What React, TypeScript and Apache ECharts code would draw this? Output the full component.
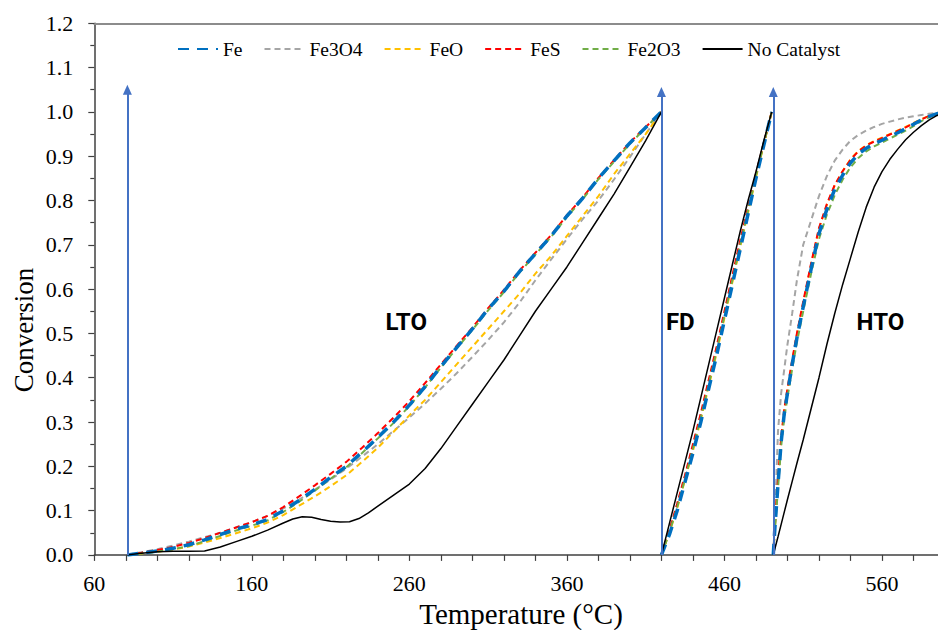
import React, { useEffect, useRef } from "react";
import * as echarts from "echarts";

// ---- Temperature grids (°C) ----
const T_LTO = [81, 90, 100, 110, 120, 130, 140, 150, 160, 170, 180, 190, 200, 210, 220, 230, 240, 250, 260, 270, 280, 290, 300, 310, 320, 330, 340, 350, 360, 370, 380, 390, 400, 410, 420];
const T_LTO_NC = [81, 90, 100, 110, 120, 130, 140, 150, 160, 170, 180, 186, 192, 198, 204, 210, 216, 222, 228, 234, 240, 250, 260, 270, 280, 290, 300, 310, 320, 330, 340, 350, 360, 370, 380, 390, 400, 410, 420];
const T_FD = [420, 425, 430, 435, 440, 445, 450, 455, 460, 465, 470, 475, 480, 485, 490];
const T_HTO = [491, 492, 494, 496, 498, 500, 503, 506, 510, 515, 520, 525, 530, 535, 540, 545, 550, 555, 560, 565, 570, 575, 580, 585, 590, 595, 600];

// ---- Conversion values ----
const feLTO = [0, 0.004, 0.009, 0.015, 0.023, 0.034, 0.046, 0.058, 0.068, 0.08, 0.1, 0.123, 0.148, 0.175, 0.2, 0.232, 0.265, 0.3, 0.338, 0.38, 0.425, 0.468, 0.51, 0.555, 0.595, 0.64, 0.68, 0.72, 0.765, 0.805, 0.85, 0.89, 0.93, 0.965, 1.0];
const fe3o4LTO = [0, 0.006, 0.013, 0.021, 0.03, 0.04, 0.05, 0.062, 0.074, 0.088, 0.105, 0.125, 0.147, 0.17, 0.195, 0.222, 0.25, 0.28, 0.31, 0.342, 0.375, 0.41, 0.447, 0.485, 0.525, 0.57, 0.62, 0.667, 0.713, 0.758, 0.8, 0.848, 0.898, 0.95, 1.0];
const feoLTO = [0, 0.003, 0.007, 0.012, 0.019, 0.028, 0.038, 0.049, 0.06, 0.073, 0.09, 0.111, 0.132, 0.155, 0.18, 0.21, 0.242, 0.278, 0.315, 0.35, 0.39, 0.43, 0.47, 0.51, 0.55, 0.59, 0.635, 0.675, 0.72, 0.765, 0.81, 0.86, 0.905, 0.95, 1.0];
const fesLTO = [0, 0.005, 0.011, 0.018, 0.027, 0.038, 0.05, 0.062, 0.074, 0.088, 0.108, 0.132, 0.157, 0.183, 0.21, 0.242, 0.275, 0.31, 0.347, 0.388, 0.43, 0.472, 0.513, 0.557, 0.598, 0.642, 0.682, 0.722, 0.767, 0.807, 0.851, 0.891, 0.931, 0.966, 1.0];
const fe2o3LTO = [0, 0.003, 0.007, 0.013, 0.02, 0.031, 0.043, 0.055, 0.066, 0.078, 0.097, 0.12, 0.145, 0.172, 0.198, 0.23, 0.263, 0.298, 0.336, 0.378, 0.423, 0.466, 0.508, 0.552, 0.593, 0.638, 0.678, 0.718, 0.763, 0.803, 0.848, 0.888, 0.928, 0.964, 1.0];
const ncLTO = [0, 0.004, 0.007, 0.008, 0.008, 0.009, 0.018, 0.03, 0.042, 0.056, 0.072, 0.081, 0.086, 0.085, 0.08, 0.076, 0.074, 0.075, 0.082, 0.095, 0.11, 0.135, 0.16, 0.195, 0.24, 0.29, 0.34, 0.39, 0.44, 0.495, 0.55, 0.6, 0.65, 0.705, 0.76, 0.815, 0.875, 0.935, 1.0];

const feFD = [0, 0.045, 0.1, 0.165, 0.23, 0.3, 0.375, 0.45, 0.53, 0.61, 0.69, 0.77, 0.85, 0.925, 1.0];
const fe3o4FD = [0, 0.055, 0.115, 0.18, 0.245, 0.315, 0.39, 0.465, 0.545, 0.625, 0.705, 0.78, 0.858, 0.93, 1.0];
const feoFD = [0, 0.05, 0.105, 0.17, 0.235, 0.305, 0.38, 0.455, 0.535, 0.615, 0.695, 0.773, 0.852, 0.927, 1.0];
const fesFD = [0, 0.055, 0.115, 0.18, 0.25, 0.32, 0.395, 0.47, 0.55, 0.63, 0.71, 0.785, 0.86, 0.93, 1.0];
const fe2o3FD = [0, 0.05, 0.108, 0.172, 0.24, 0.31, 0.385, 0.46, 0.54, 0.62, 0.7, 0.778, 0.855, 0.928, 1.0];
const ncFD = [0, 0.07, 0.14, 0.21, 0.28, 0.355, 0.43, 0.505, 0.58, 0.655, 0.73, 0.8, 0.865, 0.935, 1.0];

const feHTO = [0, 0.06, 0.16, 0.255, 0.32, 0.365, 0.43, 0.49, 0.56, 0.645, 0.725, 0.78, 0.825, 0.857, 0.885, 0.905, 0.918, 0.928, 0.936, 0.945, 0.953, 0.962, 0.972, 0.982, 0.99, 0.996, 0.999];
const fe3o4HTO = [0, 0.08, 0.28, 0.365, 0.42, 0.475, 0.545, 0.62, 0.7, 0.755, 0.81, 0.855, 0.89, 0.915, 0.935, 0.948, 0.958, 0.966, 0.973, 0.978, 0.983, 0.987, 0.99, 0.993, 0.996, 0.998, 1.0];
const feoHTO = [0, 0.062, 0.165, 0.26, 0.326, 0.372, 0.437, 0.497, 0.568, 0.655, 0.736, 0.79, 0.834, 0.866, 0.893, 0.912, 0.925, 0.934, 0.942, 0.95, 0.958, 0.966, 0.975, 0.984, 0.991, 0.996, 0.999];
const fesHTO = [0, 0.065, 0.17, 0.265, 0.33, 0.375, 0.44, 0.5, 0.572, 0.658, 0.738, 0.792, 0.835, 0.866, 0.892, 0.911, 0.924, 0.933, 0.941, 0.949, 0.957, 0.965, 0.974, 0.983, 0.991, 0.996, 0.999];
const fe2o3HTO = [0, 0.055, 0.15, 0.245, 0.31, 0.355, 0.42, 0.48, 0.55, 0.635, 0.713, 0.768, 0.812, 0.847, 0.875, 0.896, 0.911, 0.922, 0.931, 0.94, 0.949, 0.958, 0.968, 0.979, 0.988, 0.995, 0.999];
const ncHTO = [0, 0.014, 0.041, 0.069, 0.097, 0.125, 0.166, 0.207, 0.26, 0.33, 0.4, 0.475, 0.545, 0.61, 0.67, 0.73, 0.785, 0.83, 0.865, 0.893, 0.916, 0.937, 0.954, 0.969, 0.982, 0.992, 0.998];

// ---- Annotations ----
const ARROW_T = [81, 420, 491];
const ARROW_TOP = [1.05, 1.045, 1.045];
const STAGE_NAMES = ["LTO", "FD", "HTO"];
const STAGE_T = [258, 432, 559];
const STAGE_V = [0.525, 0.525, 0.525];

const SERIF = '"Liberation Serif", "Times New Roman", serif';

function seg(ts: number[], vs: number[]) {
  return ts.map((t, i) => [t, vs[i]]);
}
function build(lto: number[], fd: number[], hto: number[], ltoT: number[] = T_LTO) {
  return [
    ...seg(ltoT, lto),
    [420, null],
    ...seg(T_FD, fd),
    [490.5, null],
    ...seg(T_HTO, hto),
  ];
}

const seriesDefs = [
  { name: "Fe", color: "#0070C0", width: 3.5, type: [11, 8], z: 3, data: build(feLTO, feFD, feHTO) },
  { name: "Fe3O4", color: "#A5A5A5", width: 2, type: [6, 4], z: 2, data: build(fe3o4LTO, fe3o4FD, fe3o4HTO) },
  { name: "FeO", color: "#FFC000", width: 2, type: [6, 4], z: 2, data: build(feoLTO, feoFD, feoHTO) },
  { name: "FeS", color: "#FF0000", width: 2, type: [6, 4], z: 2, data: build(fesLTO, fesFD, fesHTO) },
  { name: "Fe2O3", color: "#70AD47", width: 2, type: [6, 4], z: 2, data: build(fe2o3LTO, fe2o3FD, fe2o3HTO) },
  { name: "No Catalyst", color: "#000000", width: 1.5, type: "solid", z: 4, data: build(ncLTO, ncFD, ncHTO, T_LTO_NC) },
];

export default function App() {
  const ref = useRef<HTMLDivElement>(null);
  useEffect(() => {
    const chart = echarts.init(ref.current!, null, { renderer: "svg" });
    const series: any[] = seriesDefs.map((s) => ({
      name: s.name,
      type: "line",
      data: s.data,
      z: s.z,
      showSymbol: false,
      symbol: "none",
      connectNulls: false,
      color: s.color,
      lineStyle: { color: s.color, width: s.width, type: s.type },
      emphasis: { disabled: true },
      silent: true,
    }));
    series.push({
      name: "annotations",
      type: "line",
      data: [],
      silent: true,
      markLine: {
        silent: true,
        symbol: ["none", "triangle"],
        symbolSize: [9, 10],
        label: { show: false },
        lineStyle: { color: "#4472C4", width: 2, type: "solid" },
        emphasis: { disabled: true },
        data: ARROW_T.map((t, i) => [{ coord: [t, 0] }, { coord: [t, ARROW_TOP[i]] }]),
      },
      markPoint: {
        silent: true,
        symbol: "circle",
        symbolSize: 0,
        label: {
          show: true,
          position: "inside",
          formatter: "{b}",
          fontFamily: "Roboto, Arial, sans-serif",
          fontWeight: "bold",
          fontSize: 24,
          color: "#000",
        },
        data: STAGE_NAMES.map((n, i) => ({ name: n, coord: [STAGE_T[i], STAGE_V[i]] })),
      },
    });

    chart.setOption({
      animation: false,
      backgroundColor: "#fff",
      grid: { left: 94.3, right: 1, top: 23.3, bottom: 75.1, containLabel: false },
      legend: {
        data: seriesDefs.map((s) => s.name),
        left: 172,
        top: 34,
        itemWidth: 40,
        itemHeight: 14,
        itemGap: 21,
        itemStyle: { opacity: 0 },
        textStyle: { fontFamily: SERIF, fontSize: 19.5, color: "#000" },
        selectedMode: false,
      },
      xAxis: [
        {
          type: "value",
          min: 60,
          max: 600,
          interval: 20,
          axisLine: { show: true, lineStyle: { color: "#404040", width: 1.5 } },
          axisTick: { show: true, length: 6, lineStyle: { color: "#404040", width: 1.2 } },
          axisLabel: {
            margin: 18,
            fontFamily: SERIF,
            fontSize: 22,
            color: "#000",
            formatter: (v: number) => ((Math.round(v) - 60) % 100 === 0 ? String(Math.round(v)) : ""),
          },
          splitLine: { show: false },
        },
        {
          type: "value",
          position: "top",
          min: 60,
          max: 600,
          axisLine: { show: true, onZero: false, lineStyle: { color: "#8c8c8c", width: 2 } },
          axisTick: { show: false },
          axisLabel: { show: false },
          splitLine: { show: false },
        },
      ],
      yAxis: {
        type: "value",
        min: 0,
        max: 1.2,
        interval: 0.1,
        axisLine: { show: true, lineStyle: { color: "#404040", width: 1.5 } },
        axisTick: { show: true, length: 6, lineStyle: { color: "#404040", width: 1.2 } },
        minorTick: { show: true, splitNumber: 2, length: 4, lineStyle: { color: "#404040", width: 1.2 } },
        axisLabel: {
          margin: 21,
          fontFamily: SERIF,
          fontSize: 22,
          color: "#000",
          formatter: (v: number) => v.toFixed(1),
        },
        splitLine: { show: false },
      },
      graphic: [
        {
          type: "text",
          x: 24,
          y: 330,
          rotation: Math.PI / 2,
          silent: true,
          style: {
            text: "Conversion",
            fontFamily: SERIF,
            fontSize: 27,
            fill: "#000",
            align: "center",
            verticalAlign: "middle",
            textAlign: "center",
            textVerticalAlign: "middle",
          },
        },
        {
          type: "text",
          x: 521,
          y: 614,
          silent: true,
          style: {
            text: "Temperature (°C)",
            fontFamily: SERIF,
            fontSize: 29,
            fill: "#000",
            align: "center",
            verticalAlign: "middle",
            textAlign: "center",
            textVerticalAlign: "middle",
          },
        },
      ],
      series,
    });
    return () => chart.dispose();
  }, []);
  return (
    <div style={{ position: "absolute", left: 0, top: 0, width: 938, height: 630, overflow: "hidden" }}>
      <div ref={ref} style={{ width: 948, height: 630 }} />
    </div>
  );
}
